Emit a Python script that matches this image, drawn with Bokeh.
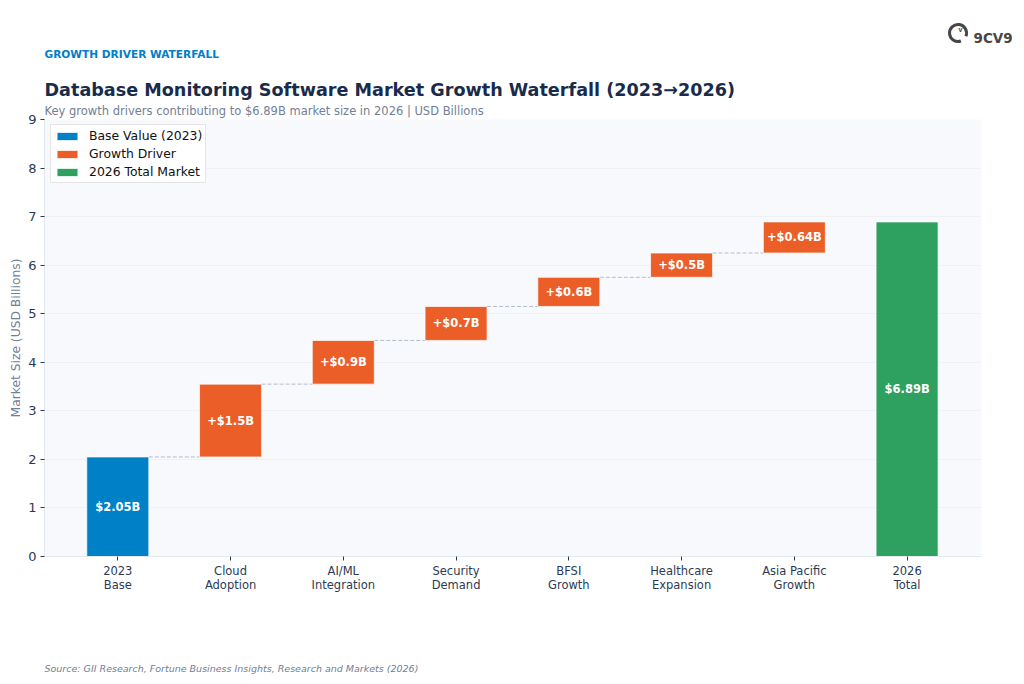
import numpy as np
from bokeh.core.properties import value
from bokeh.embed import file_html
from bokeh.layouts import column
from bokeh.resources import INLINE
from bokeh.plotting import figure
from bokeh.models import (Range1d, FixedTicker, Legend, LegendItem, Title, Div)

categories = ["2023\nBase", "Cloud\nAdoption", "AI/ML\nIntegration", "Security\nDemand",
              "BFSI\nGrowth", "Healthcare\nExpansion", "Asia Pacific\nGrowth", "2026\nTotal"]
base_value = [2.05]
growth_values = [1.5, 0.9, 0.7, 0.6, 0.5, 0.64]
total_value = [6.89]
growth_labels = ["+$1.5B", "+$0.9B", "+$0.7B", "+$0.6B", "+$0.5B", "+$0.64B"]
base_label = ["$2.05B"]
total_label = ["$6.89B"]
y_ticks = [0, 1, 2, 3, 4, 5, 6, 7, 8, 9]

BLUE, ORANGE, GREEN = "#0080c6", "#eb5e28", "#2ea05f"
NAVY = "#1a2b4a"
SLATE = "#718096"
LOGO = "#4a4545"
W = 0.55

xs = np.arange(len(categories))
tops = np.cumsum(base_value + growth_values)
bottoms = tops - np.array(base_value + growth_values)

p = figure(width=1024, height=684, output_backend="svg", toolbar_location=None,
           x_range=Range1d(-0.65, 7.66), y_range=Range1d(0, 9),
           min_border_left=44, min_border_right=43, min_border_top=119, min_border_bottom=128,
           background_fill_color="#f7f9fd", border_fill_color="white", outline_line_color=None)

p.xgrid.visible = False
p.ygrid.grid_line_color = "#eef1f6"
p.ygrid.grid_line_width = 1
p.ygrid.ticker = FixedTicker(ticks=y_ticks)

p.xaxis.ticker = FixedTicker(ticks=list(map(int, xs)))
p.xaxis.major_label_overrides = {int(i): c for i, c in zip(xs, categories)}
p.yaxis.ticker = FixedTicker(ticks=y_ticks)
for ax in (p.xaxis[0], p.yaxis[0]):
    ax.axis_line_color = "#e2e8f0"
    ax.axis_line_width = 1
    ax.major_tick_line_color = "#2d3a55"
    ax.major_tick_in = 0
    ax.major_tick_out = 4
    ax.minor_tick_line_color = None
    ax.major_label_text_font = "DejaVu Sans"
    ax.major_label_text_color = "#2d3a55"
    ax.major_label_text_font_size = "11.5px"
p.xaxis.major_label_text_line_height = 1.0
p.yaxis.major_label_text_font_size = "13px"
p.xaxis.major_label_standoff = 3
p.yaxis.major_label_standoff = 4
p.yaxis.axis_label = "Market Size (USD Billions)"
p.yaxis.axis_label_text_font = "DejaVu Sans"
p.yaxis.axis_label_text_font_style = "normal"
p.yaxis.axis_label_text_font_size = "12.3px"
p.yaxis.axis_label_text_color = SLATE
p.yaxis.axis_label_standoff = 2

conn_x0 = xs[:-1] + W / 2
conn_x1 = xs[1:] - W / 2
conn = p.segment(conn_x0[:-1], tops[:-1], conn_x1[:-1], tops[:-1], line_color="#b4bccb", line_width=1)
conn.glyph.line_dash = [4, 2]

edge = dict(line_color="white", line_width=1, line_alpha=0.7)
r_base = p.vbar(x=xs[:1], bottom=[0], top=tops[:1], width=W, fill_color=BLUE, **edge)
r_growth = p.vbar(x=xs[1:7], bottom=bottoms[1:], top=tops[1:], width=W, fill_color=ORANGE, **edge)
r_total = p.vbar(x=xs[7:], bottom=[0], top=total_value, width=W, fill_color=GREEN, **edge)

lab_x = xs
lab_y = list((tops + bottoms) / 2) + [total_value[0] / 2]
lab_t = base_label + growth_labels + total_label
p.text(lab_x, lab_y, text=lab_t, text_color="white", text_font=value("DejaVu Sans"),
       text_font_style="bold", text_font_size="11.5px", text_align="center", text_baseline="middle")

legend = Legend(items=[LegendItem(label="Base Value (2023)", renderers=[r_base]),
                       LegendItem(label="Growth Driver", renderers=[r_growth]),
                       LegendItem(label="2026 Total Market", renderers=[r_total])],
                location=(6, 373), orientation="vertical",
                label_text_font="DejaVu Sans", label_text_font_size="12.4px", label_text_color="#111111",
                glyph_width=26, glyph_height=10, label_standoff=9, spacing=3,
                padding=3, margin=0, label_height=13,
                border_line_color="#cccccc", border_line_width=1, background_fill_alpha=0.9)
p.add_layout(legend)

def title(side, t, size, color, style="normal", standoff=0, offset=0):
    p.add_layout(Title(text=t, text_font="DejaVu Sans", text_font_size=size, text_color=color,
                       text_font_style=style, align="left", offset=offset, standoff=standoff), side)

# stacked from the frame outwards
title("above", "Key growth drivers contributing to $6.89B market size in 2026 | USD Billions", "11.5px", SLATE, standoff=3.5)
title("above", "Database Monitoring Software Market Growth Waterfall (2023\u21922026)", "17.6px", NAVY, "bold")
title("above", " ", "1px", "white", standoff=15)
title("above", "GROWTH DRIVER WATERFALL", "10.6px", BLUE, "bold", standoff=0)
title("above", "9CV9", "13.5px", LOGO, "bold", offset=929)
title("below", " ", "1px", "white", standoff=55)
title("below", "Source: GII Research, Fortune Business Insights, Research and Markets (2026)", "9.5px", SLATE, "italic", standoff=16)

logo_svg = (
    '<svg width="26" height="26" viewBox="0 0 26 26" xmlns="http://www.w3.org/2000/svg">'
    f'<path d="M 20.9 16.2 A 8.5 8.5 0 1 0 15.9 21" fill="none" stroke="{LOGO}" stroke-width="3"/>'
    f'<text x="15.5" y="12" font-family="DejaVu Sans" font-weight="bold" font-size="7" '
    f'text-anchor="middle" fill="{LOGO}">v</text></svg>'
)
logo = Div(text=logo_svg, width=26, height=26, margin=0,
           styles={"position": "absolute", "left": "945px", "top": "20px", "z-index": "10"})

open("out.html", "w").write(file_html(column(p, logo, spacing=0), INLINE))
